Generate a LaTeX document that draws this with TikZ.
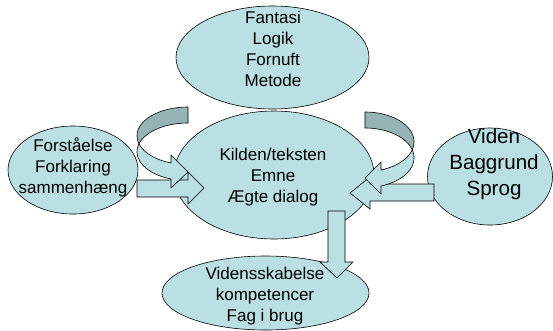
\documentclass[tikz,border=0pt]{standalone}
\usepackage{fontspec}
\setmainfont{Liberation Sans}
\definecolor{lteal}{RGB}{187,224,227}
\definecolor{dteal}{RGB}{150,179,182}
\tikzset{
  shapefill/.style={fill=lteal, draw=black, line width=0.6pt, line join=miter},
  backfill/.style={fill=dteal, draw=black, line width=0.6pt, line join=round},
  lbl/.style={font=\fontsize{17}{21}\selectfont, align=center, inner sep=0pt},
}
\begin{document}
\begin{tikzpicture}[x=1pt,y=-1pt]
\clip (0,0) rectangle (553,330);
\fill[white] (0,0) rectangle (553,330);
% ellipses
\draw[shapefill] (272.5,57.5) ellipse [x radius=96.5, y radius=51.5];
\draw[shapefill] (274,175) ellipse [x radius=100, y radius=64];
\draw[shapefill] (73,170) ellipse [x radius=65, y radius=44];
\draw[shapefill] (490,176.5) ellipse [x radius=62.5, y radius=48.5];
\draw[shapefill] (265.5,293) ellipse [x radius=103.5, y radius=37];
% straight block arrows
\draw[shapefill] (137,180) -- (188,180) -- (188,172) -- (204,188) -- (188,204) -- (188,197) -- (137,197) -- cycle;
\draw[shapefill] (434,184) -- (370,184) -- (370,177) -- (350,193) -- (370,209) -- (370,201) -- (434,201) -- cycle;
\draw[shapefill] (328,211) -- (345,211) -- (345,262) -- (353,262) -- (337,278) -- (320,262) -- (328,262) -- cycle;
% left curved arrow
\draw[backfill] plot[domain=270:163.9, samples=40, variable=\t] ({188+51*cos(\t)},{135.8+28.8*sin(\t)})
  -- plot[domain=196.1:270, samples=40, variable=\t] ({188+51*cos(\t)},{151.8+28.8*sin(\t)}) -- cycle;
\draw[shapefill] plot[domain=196.1:109.5, samples=40, variable=\t] ({188+51*cos(\t)},{151.8+28.8*sin(\t)})
  -- (171,188) -- (188,172) -- (171,155)
  -- plot[domain=109.5:163.9, samples=30, variable=\t] ({188+51*cos(\t)},{135.8+28.8*sin(\t)}) -- cycle;
% right curved arrow
\draw[backfill] plot[domain=270:375.6, samples=40, variable=\t] ({365+49*cos(\t)},{141.8+29.8*sin(\t)})
  -- plot[domain=344.4:270, samples=40, variable=\t] ({365+49*cos(\t)},{157.8+29.8*sin(\t)}) -- cycle;
\draw[shapefill] plot[domain=344.4:430.9, samples=40, variable=\t] ({365+49*cos(\t)},{157.8+29.8*sin(\t)})
  -- (381,194) -- (365,178) -- (381,162)
  -- plot[domain=430.9:375.6, samples=30, variable=\t] ({365+49*cos(\t)},{141.8+29.8*sin(\t)}) -- cycle;
% texts
\node[lbl] (fantasi) at (273,49) {Fantasi\\Logik\\Fornuft\\Metode};
\node[lbl] (kilden) at (273,177) {Kilden/teksten\\Emne\\Ægte dialog};
\node[lbl] (forst) at (73,167) {Forståelse\\Forklaring\\sammenhæng};
\node[lbl, font=\fontsize{20.6}{26}\selectfont] (viden) at (494,164) {Viden\\Baggrund\\Sprog};
\node[lbl] (vidensk) at (265,296.5) {Vidensskabelse\\kompetencer\\Fag i brug};
\end{tikzpicture}
\end{document}
